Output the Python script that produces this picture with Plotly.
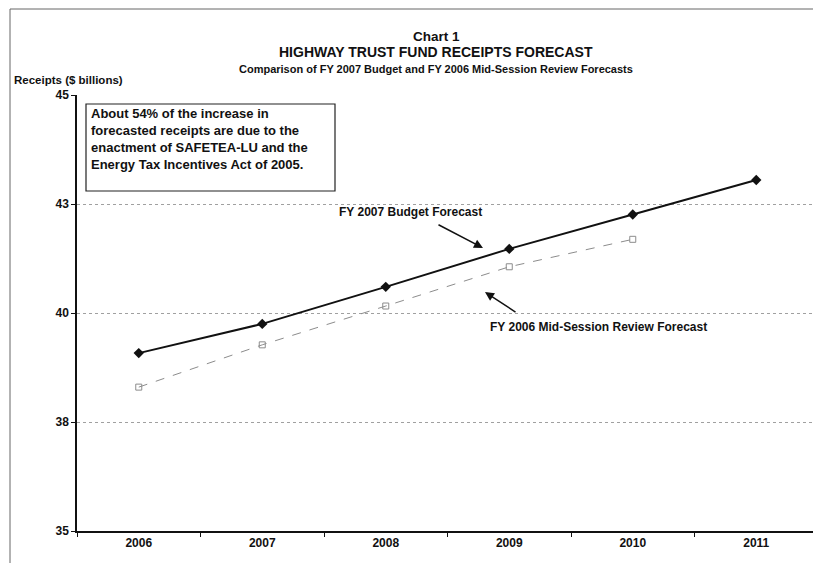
import plotly.graph_objects as go

years = ["2006", "2007", "2008", "2009", "2010", "2011"]
budget_fy2007 = [39.08, 39.75, 40.60, 41.47, 42.26, 43.05]
midsession_years = ["2006", "2007", "2008", "2009", "2010"]
midsession_fy2006 = [38.30, 39.27, 40.16, 41.06, 41.69]
y_tickvals = [35, 37.5, 40, 42.5, 45]
y_ticktext = ["35", "38", "40", "43", "45"]

FONT = "Liberation Sans, Arial, sans-serif"

fig = go.Figure()
fig.add_trace(go.Scatter(
    x=midsession_years, y=midsession_fy2006, mode="lines+markers",
    name="FY 2006 Mid-Session Review Forecast",
    line=dict(color="#8c8c8c", width=1, dash="dash"),
    marker=dict(symbol="square-open", size=6, color="#8c8c8c", line=dict(width=1)),
))
fig.add_trace(go.Scatter(
    x=years, y=budget_fy2007, mode="lines+markers",
    name="FY 2007 Budget Forecast",
    line=dict(color="#111111", width=2),
    marker=dict(symbol="diamond", size=8, color="#111111"),
))

# reference-pixel geometry of the plot area; page body adds an 8px offset
OFF = 8
L, R, T, B = 77, 818, 95, 531
W, H = 821 - OFF, 563 - OFF
PW, PH = R - L, B - T

def px(xp):
    return (xp - L) / PW

def py(yp):
    return (B - yp) / PH

def txt(text, x, y, size, xanchor="center", **kw):
    return dict(text=text, x=px(x), y=py(y), xref="paper", yref="paper",
                xanchor=xanchor, yanchor=kw.pop("yanchor", "middle"), showarrow=False,
                font=dict(size=size, color="#111"), **kw)

annotations = [
    txt("<b>Chart 1</b>", 436, 36, 13.5),
    txt("<b>HIGHWAY TRUST FUND RECEIPTS FORECAST</b>", 436, 52, 14),
    txt("<b>Comparison of FY 2007 Budget and FY 2006 Mid-Session Review Forecasts</b>", 436, 69, 11),
    txt("<b>Receipts ($ billions)</b>", 12, 80, 11.5, xanchor="left"),
    txt("<b>About 54% of the increase in<br>forecasted receipts are due to the<br>"
        "enactment of SAFETEA-LU and the<br>Energy Tax Incentives Act of 2005.</b>",
        89, 104, 13, xanchor="left", yanchor="top", align="left"),
    txt("<b>FY 2007 Budget Forecast</b>", 410, 212, 12),
    txt("<b>FY 2006 Mid-Session Review Forecast</b>", 598, 327, 12),
    dict(text="", x=px(483), y=py(248), xref="paper", yref="paper", showarrow=True,
         ax=-46, ay=-24, arrowhead=2, arrowsize=1.2, arrowwidth=1.5, arrowcolor="#111"),
    dict(text="", x=px(485), y=py(292), xref="paper", yref="paper", showarrow=True,
         ax=32, ay=21, arrowhead=2, arrowsize=1.2, arrowwidth=1.5, arrowcolor="#111"),
]

shapes = [
    dict(type="rect", xref="paper", yref="paper", x0=px(86), x1=px(335), y0=py(191), y1=py(104),
         line=dict(color="#222", width=1.2), fillcolor="rgba(0,0,0,0)"),
    dict(type="line", xref="paper", yref="paper", x0=px(10), x1=px(10), y0=py(9), y1=py(570),
         line=dict(color="#666", width=1)),
    dict(type="line", xref="paper", yref="paper", x0=px(10), x1=px(830), y0=py(9), y1=py(9),
         line=dict(color="#666", width=1)),
]

fig.update_layout(
    width=W, height=H,
    margin=dict(l=L - OFF, r=821 - R, t=T - OFF, b=563 - B),
    paper_bgcolor="white", plot_bgcolor="white",
    showlegend=False,
    font=dict(family=FONT, color="#111"),
    annotations=annotations, shapes=shapes,
)
fig.update_xaxes(
    type="category", range=[-0.5, 5.5], tickson="boundaries",
    showline=True, linecolor="#111", linewidth=2,
    ticks="outside", ticklen=4, tickcolor="#111",
    showgrid=False, zeroline=False,
    tickfont=dict(size=12, family=FONT, color="#111"),
    tickprefix="<b>", ticksuffix="</b>",
)
fig.update_yaxes(
    range=[35, 45], tickvals=y_tickvals, ticktext=["<b>%s</b>" % t for t in y_ticktext],
    showline=True, linecolor="#111", linewidth=1.5,
    ticks="outside", ticklen=4, tickcolor="#111",
    showgrid=True, gridcolor="#a0a0a0", griddash="dot", gridwidth=1,
    zeroline=False,
    tickfont=dict(size=12, family=FONT, color="#111"),
)

fig.write_html("out.html")
